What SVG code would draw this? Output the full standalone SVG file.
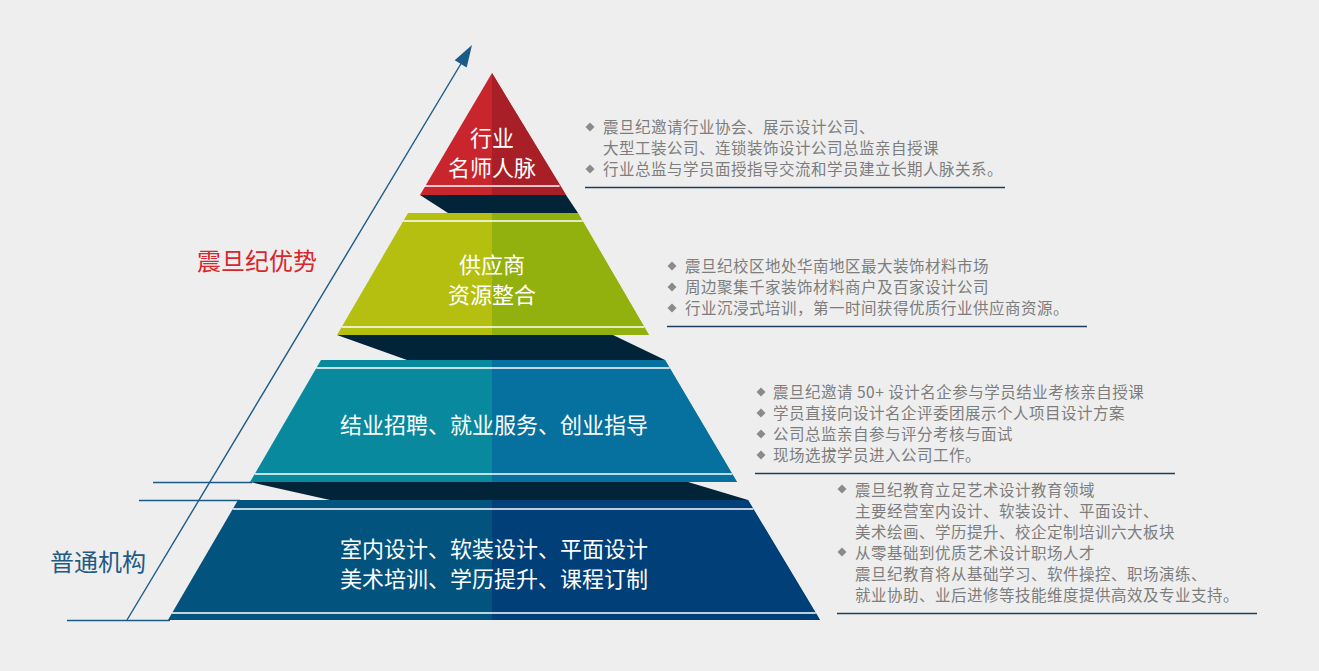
<svg xmlns="http://www.w3.org/2000/svg" xmlns:xlink="http://www.w3.org/1999/xlink" width="1319" height="671" viewBox="0 0 1319 671">
<defs>
<style>
.bg{fill:#eeeeee}
.shadow{fill:#022439}
.wl{stroke:#ffffff;stroke-width:1.6;fill:none}
.axis{stroke:#1b5b87;stroke-width:1.4;fill:none}
.tierText{font-family:"Noto Sans CJK SC","Microsoft YaHei",sans-serif;font-size:22px;fill:#ffffff;text-anchor:middle}
.desc{font-family:"Noto Sans CJK SC","Microsoft YaHei",sans-serif;font-size:15.5px;letter-spacing:0.5px;fill:#7d7d7d}
.rule{stroke:#1d3d5c;stroke-width:1.3;fill:none}
.bul{fill:#8a8a8a}
</style>
<polygon id="dia" points="0,-4.5 4.5,0 0,4.5 -4.5,0"/>
</defs>
<rect class="bg" x="0" y="0" width="1319" height="671"/>

<g id="connectors">
<line class="axis" x1="127" y1="620" x2="462" y2="62"/>
<polygon points="472,45 454.7,60.3 466.7,67.5" fill="#1b5b87"/>
<line class="axis" x1="153" y1="482.5" x2="252" y2="482.5"/>
<line class="axis" x1="139" y1="500.5" x2="240" y2="500.5"/>
<line class="axis" x1="67" y1="620.5" x2="170" y2="620.5"/>
</g>

<g id="shadows">
<polygon class="shadow" points="420,195 566,195 578,213 448,213"/>
<polygon class="shadow" points="337,335 613,335 665,360 407,360"/>
<polygon class="shadow" points="250,482 688,482 748,500 330,500"/>
</g>

<g id="tier1">
<polygon points="492,73 566,195 420,195" fill="#c9252c"/>
<polygon points="492,73 566,195 492,195" fill="#a81f27"/>
<line class="wl" x1="424.4" y1="186" x2="559.6" y2="186"/>
<text class="tierText" x="492" y="146">行业</text>
<text class="tierText" x="492" y="176">名师人脉</text>
</g>

<g id="tier2">
<polygon points="408,213 578,213 649,335 337,335" fill="#b4bf10"/>
<polygon points="492,213 578,213 649,335 492,335" fill="#92b00e"/>
<line class="wl" x1="403.3" y1="221" x2="582.7" y2="221"/>
<line class="wl" x1="341.7" y1="327" x2="644.3" y2="327"/>
<text class="tierText" x="492" y="273">供应商</text>
<text class="tierText" x="492" y="303">资源整合</text>
</g>

<g id="tier3">
<polygon points="321,360 665,360 737,482 250,482" fill="#08899d"/>
<polygon points="492,360 665,360 737,482 492,482" fill="#06709e"/>
<line class="wl" x1="316.3" y1="368" x2="669.7" y2="368"/>
<line class="wl" x1="254.7" y1="474" x2="732.3" y2="474"/>
<text class="tierText" x="494" y="433">结业招聘、就业服务、创业指导</text>
</g>

<g id="tier4">
<polygon points="238,500 748,500 820,620 168,620" fill="#02537e"/>
<polygon points="492,500 748,500 820,620 492,620" fill="#013f79"/>
<line class="wl" x1="232.8" y1="509" x2="753.4" y2="509"/>
<line class="wl" x1="172" y1="613" x2="815.8" y2="613"/>
<text class="tierText" x="494" y="557">室内设计、软装设计、平面设计</text>
<text class="tierText" x="494" y="587">美术培训、学历提升、课程订制</text>
</g>

<g id="label-advantage">
<text x="197" y="270" font-family="Noto Sans CJK SC, Microsoft YaHei, sans-serif" font-size="24" fill="#d9252c">震旦纪优势</text>
</g>
<g id="label-normal">
<text x="50" y="571" font-family="Noto Sans CJK SC, Microsoft YaHei, sans-serif" font-size="24" fill="#1f5a85">普通机构</text>
</g>

<g id="desc1">
<use xlink:href="#dia" class="bul" x="590" y="127"/>
<use xlink:href="#dia" class="bul" x="590" y="169"/>
<text class="desc" x="603" y="133">震旦纪邀请行业协会、展示设计公司、</text>
<text class="desc" x="603" y="154">大型工装公司、连锁装饰设计公司总监亲自授课</text>
<text class="desc" x="603" y="175">行业总监与学员面授指导交流和学员建立长期人脉关系。</text>
<line class="rule" x1="585" y1="187.5" x2="1005" y2="187.5"/>
</g>

<g id="desc2">
<use xlink:href="#dia" class="bul" x="672" y="266"/>
<use xlink:href="#dia" class="bul" x="672" y="287"/>
<use xlink:href="#dia" class="bul" x="672" y="308"/>
<text class="desc" x="685" y="272">震旦纪校区地处华南地区最大装饰材料市场</text>
<text class="desc" x="685" y="293">周边聚集千家装饰材料商户及百家设计公司</text>
<text class="desc" x="685" y="314">行业沉浸式培训，第一时间获得优质行业供应商资源。</text>
<line class="rule" x1="667" y1="326.5" x2="1087" y2="326.5"/>
</g>

<g id="desc3">
<use xlink:href="#dia" class="bul" x="761" y="392"/>
<use xlink:href="#dia" class="bul" x="761" y="413"/>
<use xlink:href="#dia" class="bul" x="761" y="434"/>
<use xlink:href="#dia" class="bul" x="761" y="455"/>
<text class="desc" x="773" y="398">震旦纪邀请 50+ 设计名企参与学员结业考核亲自授课</text>
<text class="desc" x="773" y="419">学员直接向设计名企评委团展示个人项目设计方案</text>
<text class="desc" x="773" y="440">公司总监亲自参与评分考核与面试</text>
<text class="desc" x="773" y="461">现场选拔学员进入公司工作。</text>
<line class="rule" x1="755" y1="473.5" x2="1175" y2="473.5"/>
</g>

<g id="desc4">
<use xlink:href="#dia" class="bul" x="842" y="489"/>
<use xlink:href="#dia" class="bul" x="842" y="552"/>
<text class="desc" x="855" y="496">震旦纪教育立足艺术设计教育领域</text>
<text class="desc" x="855" y="517">主要经营室内设计、软装设计、平面设计、</text>
<text class="desc" x="855" y="538">美术绘画、学历提升、校企定制培训六大板块</text>
<text class="desc" x="855" y="559">从零基础到优质艺术设计职场人才</text>
<text class="desc" x="855" y="580">震旦纪教育将从基础学习、软件操控、职场演练、</text>
<text class="desc" x="855" y="601">就业协助、业后进修等技能维度提供高效及专业支持。</text>
<line class="rule" x1="837" y1="613.5" x2="1257" y2="613.5"/>
</g>
</svg>
